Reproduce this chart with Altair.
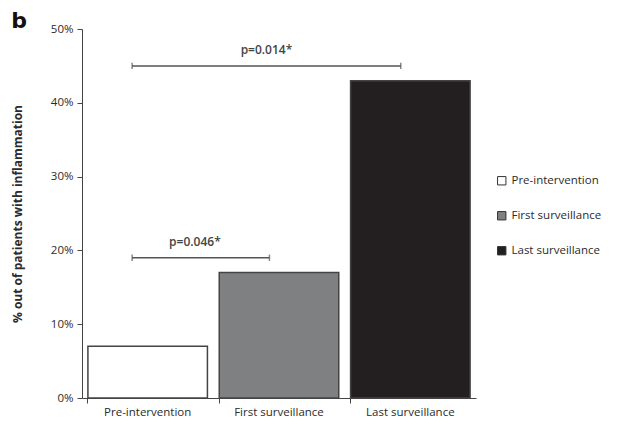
import altair as alt
import pandas as pd

categories = ["Pre-intervention", "First surveillance", "Last surveillance"]
values = [7, 17, 43]
colors = ["#ffffff", "#7f8082", "#231f20"]

brk_from = ["Pre-intervention", "Pre-intervention"]
brk_to = ["First surveillance", "Last surveillance"]
brk_mid = ["Pre-intervention", "First surveillance"]
brk_y = [19, 45]
brk_label = ["p=0.046*", "p=0.014*"]

bars_df = pd.DataFrame({"cat": categories, "val": values})
brk_df = pd.DataFrame({"from": brk_from, "to": brk_to, "mid": brk_mid, "y": brk_y, "label": brk_label})

FONT = "Open Sans"
TXT = "#2b2b2b"

xscale = alt.Scale(domain=categories, paddingInner=0.09, paddingOuter=0.045)
yscale = alt.Scale(domain=[0, 50])

bars = alt.Chart(bars_df).mark_bar(stroke="#444444", strokeWidth=1.5).encode(
    x=alt.X("cat:N", scale=xscale, sort=categories,
            axis=alt.Axis(title=None, labelAngle=0, bandPosition=0, labelFontSize=11.5,
                          labelFont=FONT, labelColor=TXT, domainColor="#444444",
                          tickColor="#444444", tickSize=5, labelPadding=3)),
    y=alt.Y("val:Q", scale=yscale,
            axis=alt.Axis(title="% out of patients with inflammation", values=[0, 10, 20, 30, 40, 50],
                          labelExpr="datum.value + '%'", grid=False, titleFontSize=12,
                          titleFont=FONT, titleFontWeight="bold", titleColor=TXT,
                          labelFont=FONT, labelFontSize=11.5, labelColor=TXT,
                          domainColor="#444444", tickColor="#444444", tickSize=5,
                          labelPadding=4, titlePadding=26)),
    fill=alt.Fill("cat:N", scale=alt.Scale(domain=categories, range=colors),
                  legend=alt.Legend(title=None, orient="none", legendX=414, legendY=146,
                                    symbolType="square",
                                    symbolSize=70, symbolStrokeColor="#333333",
                                    symbolStrokeWidth=1, labelFont=FONT, labelFontSize=11.5,
                                    labelColor=TXT, rowPadding=22, padding=0)),
)

rules = alt.Chart(brk_df).mark_rule(color="#555555", strokeWidth=1.5).encode(
    x=alt.X("from:N", scale=xscale, bandPosition=0.37),
    x2=alt.X2("to:N", bandPosition=0.42),
    y=alt.Y("y:Q", scale=yscale),
)

caps_l = alt.Chart(brk_df).mark_point(shape="M0,-1L0,1", size=40, color="#555555",
                                       strokeWidth=1.5, filled=False).encode(
    x=alt.X("from:N", scale=xscale, bandPosition=0.37),
    y=alt.Y("y:Q", scale=yscale),
)
caps_r = alt.Chart(brk_df).mark_point(shape="M0,-1L0,1", size=40, color="#555555",
                                       strokeWidth=1.5, filled=False).encode(
    x=alt.X("to:N", scale=xscale, bandPosition=0.42),
    y=alt.Y("y:Q", scale=yscale),
)

text_style = dict(font=FONT, fontSize=12, fontWeight=600, color="#444444", dy=-16)
label_a = alt.Chart(brk_df).transform_filter(alt.datum.label == "p=0.046*").mark_text(
    **text_style).encode(
    x=alt.X("mid:N", scale=xscale, bandPosition=0.895),
    y=alt.Y("y:Q", scale=yscale),
    text="label:N",
)
label_b = alt.Chart(brk_df).transform_filter(alt.datum.label == "p=0.014*").mark_text(
    **text_style).encode(
    x=alt.X("mid:N", scale=xscale, bandPosition=0.395),
    y=alt.Y("y:Q", scale=yscale),
    text="label:N",
)

chart = alt.layer(bars, rules, caps_l, caps_r, label_a, label_b).properties(
    width=394, height=369,
    padding={"left": 3, "top": 2, "right": 5, "bottom": 5},
    title=alt.Title("b", anchor="start", frame="bounds", fontSize=22, fontWeight="bold",
                    font="DejaVu Sans", color="#111111", offset=-10),
).configure_view(stroke=None)

chart.save("out.html", embed_options={"renderer": "svg", "actions": False})
